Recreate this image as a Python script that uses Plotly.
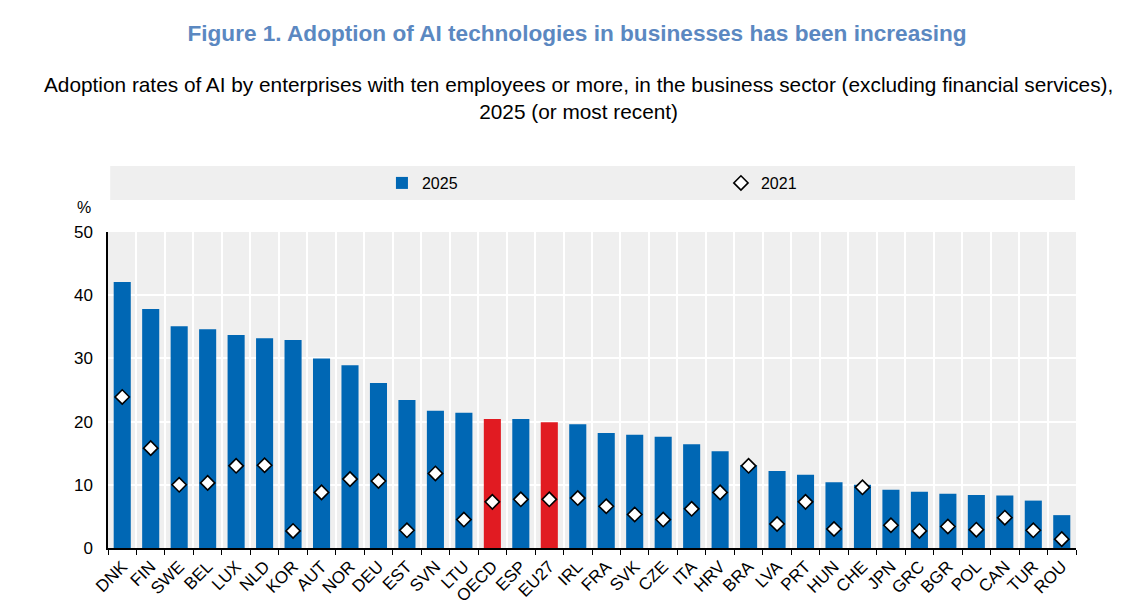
import plotly.graph_objects as go

countries = ["DNK", "FIN", "SWE", "BEL", "LUX", "NLD", "KOR", "AUT", "NOR", "DEU", "EST", "SVN",
             "LTU", "OECD", "ESP", "EU27", "IRL", "FRA", "SVK", "CZE", "ITA", "HRV", "BRA", "LVA",
             "PRT", "HUN", "CHE", "JPN", "GRC", "BGR", "POL", "CAN", "TUR", "ROU"]
values_2025 = [42.1, 37.8, 35.1, 34.6, 33.7, 33.2, 32.9, 30.0, 28.9, 26.1, 23.4, 21.7,
               21.4, 20.4, 20.4, 19.9, 19.6, 18.2, 17.9, 17.6, 16.4, 15.3, 13.1, 12.2,
               11.6, 10.4, 10.0, 9.2, 8.9, 8.6, 8.4, 8.3, 7.5, 5.2]
values_2021 = [23.9, 15.8, 10.0, 10.3, 13.0, 13.1, 2.7, 8.8, 10.9, 10.6, 2.8, 11.8,
               4.5, 7.3, 7.7, 7.7, 7.9, 6.6, 5.3, 4.5, 6.2, 8.8, 13.0, 3.8,
               7.3, 3.0, 9.6, 3.6, 2.7, 3.4, 2.9, 4.8, 2.8, 1.4]
highlight = ["OECD", "EU27"]

BLUE = "#0067b4"
RED = "#e11b22"
bar_colors = [RED if c in highlight else BLUE for c in countries]

FONT = "Arial Narrow, Liberation Sans Narrow, Liberation Sans, Arial, sans-serif"

fig = go.Figure()
fig.add_trace(go.Bar(
    x=countries, y=values_2025, name="2025",
    marker=dict(color=bar_colors, line=dict(width=0)),
    width=0.6,
))
fig.add_trace(go.Scatter(
    x=countries, y=values_2021, name="2021", mode="markers",
    marker=dict(symbol="diamond", size=11, color="white",
                line=dict(color="black", width=1.6)),
))

fig.update_layout(
    width=1145, height=614,
    margin=dict(l=100, r=77, t=224, b=74),
    paper_bgcolor="white",
    plot_bgcolor="#efefef",
    font=dict(family=FONT, size=16, color="black"),
    title=dict(
        text="<b>Figure 1. Adoption of AI technologies in businesses has been increasing</b>",
        x=0.497, xanchor="center", y=1 - 25 / 614, yanchor="middle",
        font=dict(family=FONT, size=22.6, color="#5b88c1"),
    ),
    showlegend=True,
    legend=dict(
        orientation="h", x=0.283, xanchor="left", y=1.155, yanchor="middle",
        bgcolor="rgba(0,0,0,0)", font=dict(size=16),
        entrywidth=294, entrywidthmode="pixels", itemwidth=30,
    ),
    bargap=0.4,
)

fig.add_shape(type="rect", xref="paper", yref="paper",
              x0=0.0023, x1=0.999, y0=1.1013, y1=1.2089,
              fillcolor="#efefef", line=dict(width=0), layer="below")

fig.add_annotation(
    text="Adoption rates of AI by enterprises with ten employees or more, in the business sector (excluding financial services),<br>2025 (or most recent)",
    xref="paper", yref="paper", x=0.486, y=1.4225, xanchor="center", yanchor="middle",
    showarrow=False, font=dict(family=FONT, size=20.8, color="black"), align="center",
)
fig.add_annotation(
    text="%", xref="paper", yref="paper", x=-0.0245, y=1.079,
    xanchor="center", yanchor="middle", showarrow=False,
    font=dict(family=FONT, size=16, color="black"),
)

fig.update_xaxes(
    showline=True, linecolor="black", linewidth=2,
    ticks="outside", tickson="boundaries", ticklen=5, tickcolor="black", tickwidth=1.2,
    showgrid=True, gridcolor="white", gridwidth=2,
    tickangle=-45, tickfont=dict(size=17),
    range=[-0.5, len(countries) - 0.5],
)
fig.update_yaxes(
    range=[0, 50], dtick=10,
    showline=True, linecolor="black", linewidth=1.5,
    showgrid=True, gridcolor="white", gridwidth=2,
    ticks="", tickfont=dict(size=17), zeroline=False,
    ticklabelstandoff=10,
)

fig.write_html("out.html")
